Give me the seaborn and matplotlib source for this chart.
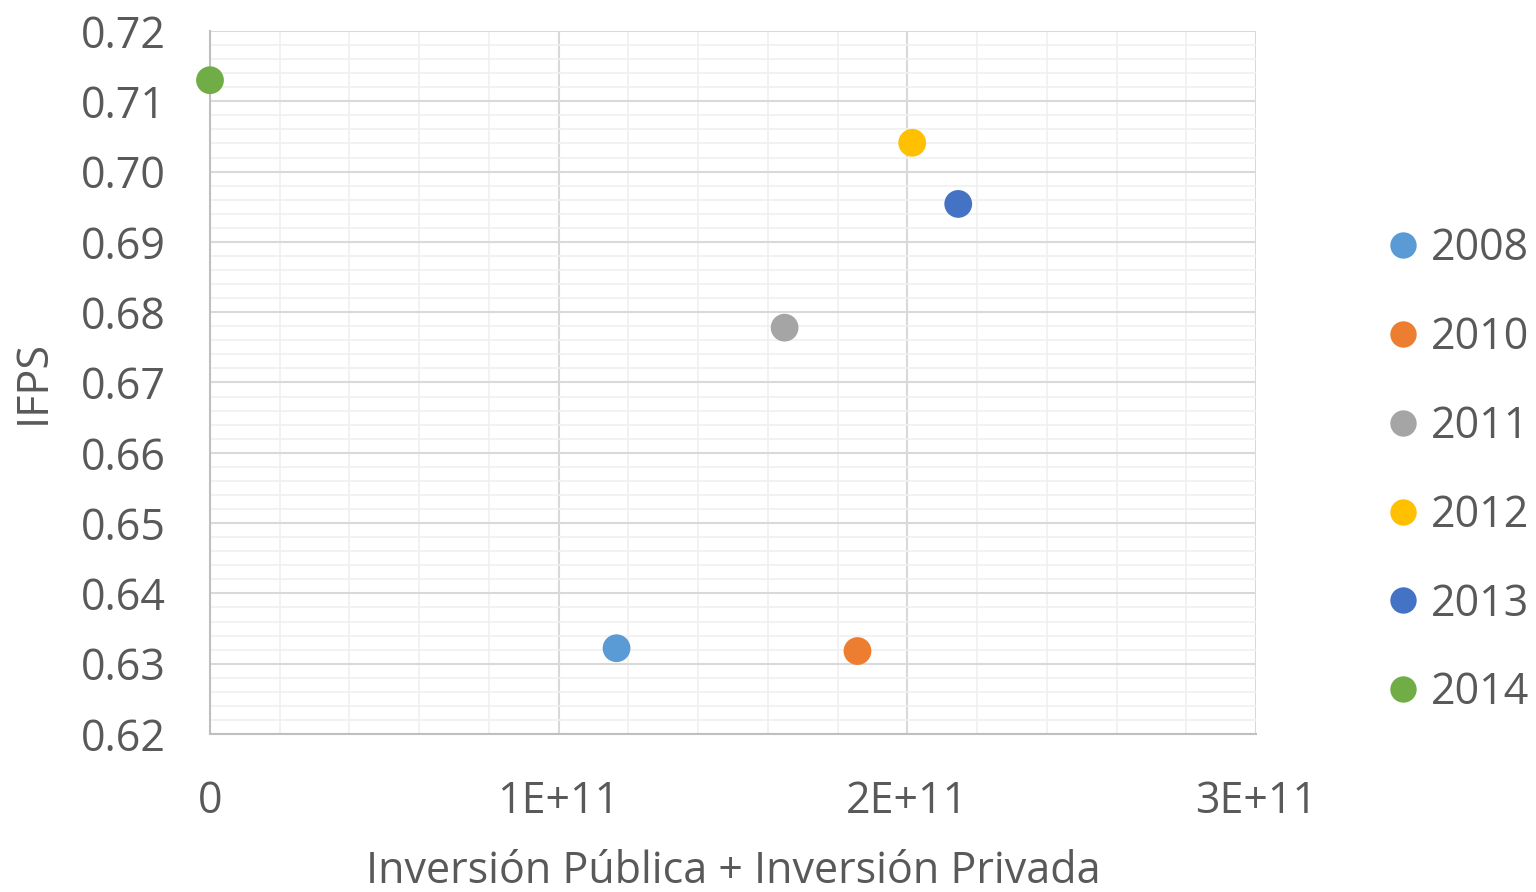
import pandas as pd
import seaborn as sns
import matplotlib.pyplot as plt
from matplotlib.ticker import MultipleLocator

# values
years = ['2008', '2010', '2011', '2012', '2013', '2014']
inversion = [1.166e11, 1.857e11, 1.648e11, 2.014e11, 2.146e11, 0.0]
ifps = [0.6322, 0.6318, 0.6778, 0.7041, 0.6954, 0.7130]
colors = ['#5B9BD5', '#ED7D31', '#A5A5A5', '#FFC000', '#4472C4', '#70AD47']

x_ticks = [0, 1e11, 2e11, 3e11]
x_tick_labels = ['0', '1E+11', '2E+11', '3E+11']
y_ticks = [0.62, 0.63, 0.64, 0.65, 0.66, 0.67, 0.68, 0.69, 0.70, 0.71, 0.72]

TEXT = '#595959'
FS = 31


def build_frame():
    return pd.DataFrame({'year': years, 'inv': inversion, 'ifps': ifps})


def draw(df):
    sns.set_style('white')
    plt.rcParams['font.family'] = ['Open Sans', 'DejaVu Sans']
    fig = plt.figure(figsize=(15.36, 8.92), dpi=100)
    ax = fig.add_axes([210 / 1536, 1 - 734 / 892, (1256 - 210) / 1536, (734 - 31) / 892])

    sns.scatterplot(data=df, x='inv', y='ifps', hue='year',
                    palette=dict(zip(years, colors)), s=400,
                    edgecolor='none', ax=ax, zorder=5, clip_on=False)

    ax.set_xlim(0, 3e11)
    ax.set_ylim(0.62, 0.72)
    ax.set_xticks(x_ticks)
    ax.set_xticklabels(x_tick_labels)
    ax.set_yticks(y_ticks)
    ax.set_yticklabels(['{:.2f}'.format(v) for v in y_ticks])
    ax.xaxis.set_minor_locator(MultipleLocator(2e10))
    ax.yaxis.set_minor_locator(MultipleLocator(0.002))

    ax.grid(which='major', color='#D9D9D9', linewidth=1.5)
    ax.grid(which='minor', color='#F0F0F0', linewidth=1.2)
    ax.set_axisbelow(True)

    for side in ['top', 'right']:
        ax.spines[side].set_visible(False)
    for side in ['left', 'bottom']:
        ax.spines[side].set_color('#BFBFBF')
        ax.spines[side].set_linewidth(1.5)

    ax.tick_params(which='major', length=11, width=1.2, color='#BFBFBF',
                   labelsize=FS, labelcolor=TEXT)
    ax.tick_params(axis='y', pad=21)
    ax.tick_params(axis='x', pad=22)
    ax.tick_params(which='minor', length=0)

    ax.set_xlabel('Inversión Pública + Inversión Privada', fontsize=FS,
                  color=TEXT, labelpad=18)
    ax.set_ylabel('IFPS', fontsize=FS, color=TEXT, labelpad=18)

    handles, labels = ax.get_legend_handles_labels()
    ax.legend(handles, labels, loc='center left',
              bbox_to_anchor=(1384 / 1536, 1 - 471 / 892),
              bbox_transform=fig.transFigure, frameon=False, fontsize=FS,
              labelcolor=TEXT, labelspacing=1.03, handletextpad=0.2,
              markerscale=0.95, borderpad=0, borderaxespad=0, handlelength=0.9)

    fig.savefig('out.png', dpi=100)


if __name__ == "__main__":
    df = build_frame()
    draw(df)
